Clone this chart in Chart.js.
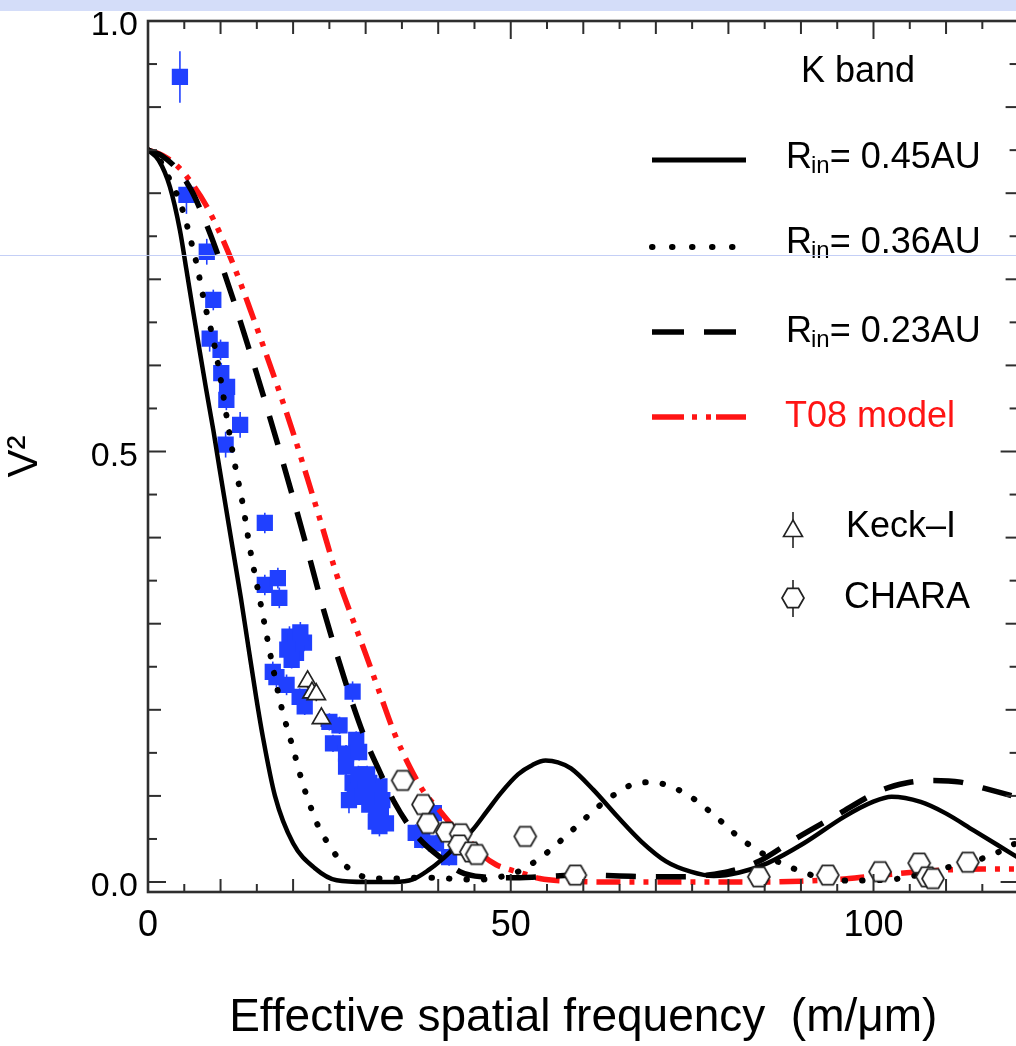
<!DOCTYPE html>
<html><head><meta charset="utf-8">
<script src="https://cdn.jsdelivr.net/npm/chart.js@4.4.1/dist/chart.umd.min.js"></script>
<style>
html,body{margin:0;padding:0;background:#fff;overflow:hidden;width:1016px;height:1046px;}
#wrap{position:absolute;left:0;top:0;width:1040px;height:1046px;}
#band{position:absolute;left:0;top:0;width:1016px;height:11px;background:#d4ddf9;z-index:2;}
#hl{position:absolute;left:0;top:255px;width:1016px;height:1px;background:rgba(190,202,245,0.9);z-index:2;}
</style></head><body>
<div id="wrap"><canvas id="c" width="1040" height="1046"></canvas></div>
<div id="band"></div><div id="hl"></div>
<script>
const FONT = '"Liberation Sans", Helvetica, Arial, sans-serif';

// ---- tick labels ----
const xTickValues = [0, 50, 100];
const yTickValues = [0.0, 0.5, 1.0];

// ---- model curves ----
const freqRin045 = [0, 1.5, 3.0, 4.4, 5.3, 6.2, 7.1, 8.0, 9.0, 9.9, 10.8, 11.7, 12.8, 13.8, 14.9, 15.8, 17.5, 20.0, 23.0, 26.0, 30.0, 34.0, 36.5, 38.7, 40.5, 42.5, 44.7, 46.7, 48.6, 51.0, 53.0, 54.8, 56.5, 58.3, 61.4, 64.7, 68.0, 71.4, 74.8, 78.0, 81.5, 85.4, 90.4, 96.0, 99.9, 102.5, 106.5, 109.9, 113.8, 117.1, 120];
const v2Rin045   = [0.85, 0.838, 0.808, 0.757, 0.711, 0.664, 0.618, 0.573, 0.525, 0.478, 0.432, 0.386, 0.33, 0.275, 0.215, 0.17, 0.1, 0.045, 0.016, 0.002, 0.0, 0.0, 0.003, 0.014, 0.026, 0.042, 0.06, 0.082, 0.103, 0.125, 0.136, 0.141, 0.139, 0.132, 0.107, 0.076, 0.047, 0.024, 0.012, 0.007, 0.011, 0.022, 0.045, 0.076, 0.093, 0.099, 0.093, 0.08, 0.06, 0.043, 0.028];

const freqRin036 = [0, 1.5, 3.25, 4.4, 5.3, 6.0, 6.7, 7.8, 9.1, 10.1, 11.0, 12.0, 13.1, 14.0, 15.6, 17.2, 18.4, 20.0, 21.3, 22.3, 23.4, 24.8, 26.4, 28.7, 31, 34, 37, 40, 43, 46, 48.6, 51, 53.4, 55.7, 57.8, 59.9, 62, 64.2, 66.7, 69.5, 72.3, 74.8, 77, 79.2, 81.3, 83.6, 86, 88.6, 91.1, 93.5, 96.8, 99.5, 102.6, 105.5, 108.8, 112.5, 116.3, 118.8, 120];
const v2Rin036   = [0.85, 0.84, 0.811, 0.79, 0.765, 0.742, 0.718, 0.672, 0.626, 0.58, 0.532, 0.484, 0.437, 0.39, 0.32, 0.25, 0.203, 0.155, 0.115, 0.09, 0.066, 0.045, 0.026, 0.01, 0.004, 0.004, 0.005, 0.005, 0.003, 0.003, 0.006, 0.012, 0.024, 0.039, 0.055, 0.071, 0.087, 0.101, 0.113, 0.116, 0.110, 0.099, 0.085, 0.069, 0.053, 0.039, 0.027, 0.017, 0.009, 0.004, 0.0015, 0.002, 0.003, 0.007, 0.014, 0.022, 0.031, 0.042, 0.046];

const freqRin023 = [0, 2, 4, 6, 8, 10, 12, 14, 16, 18, 20, 22, 24, 26, 28, 30, 32, 34, 36, 38, 40.7, 43, 46, 50, 54, 60, 65, 70, 74, 77, 80, 84.2, 89, 94.8, 101.2, 104.5, 108.2, 112, 115.2, 120];
const v2Rin023   = [0.85, 0.843, 0.828, 0.803, 0.765, 0.72, 0.67, 0.617, 0.562, 0.505, 0.446, 0.385, 0.322, 0.265, 0.212, 0.165, 0.127, 0.092, 0.065, 0.045, 0.026, 0.012, 0.006, 0.005, 0.006, 0.008, 0.007, 0.006, 0.006, 0.008, 0.012, 0.024, 0.049, 0.077, 0.107, 0.115, 0.118, 0.116, 0.109, 0.098];

const freqT08 = [0, 2, 4, 6, 8, 10, 12, 14, 16, 18, 20, 22, 24, 26, 28, 30, 32, 34, 36, 38, 40, 42, 44, 46, 48, 50, 52, 54, 58, 65, 75, 85, 90, 95, 100, 105, 110, 115, 120];
const v2T08   = [0.85, 0.844, 0.832, 0.812, 0.786, 0.752, 0.712, 0.667, 0.62, 0.572, 0.522, 0.468, 0.413, 0.357, 0.31, 0.265, 0.218, 0.172, 0.135, 0.105, 0.085, 0.065, 0.05, 0.032, 0.02, 0.014, 0.009, 0.004, 0.001, 0.0, 0.0, 0.0, 0.001, 0.003, 0.007, 0.011, 0.014, 0.015, 0.015];

// ---- observations ----
const blueFreq = [4.4, 5.3, 8.1, 9.0, 8.5, 10.0, 10.1, 10.9, 10.8, 12.7, 10.7, 16.1, 16.1, 17.9, 18.1, 19.5, 20.4, 21.5, 20.4, 19.2, 19.8, 21.0, 17.2, 17.7, 19.1, 20.9, 21.6, 28.2, 25.0, 26.4, 25.5, 28.7, 27.3, 29.1, 27.3, 28.2, 29.1, 30.5, 31.9, 29.0, 30.2, 28.5, 30.0, 31.0, 30.5, 32.0, 31.5, 32.8, 27.7, 29.6, 32.3, 32.1, 31.9, 31.4, 36.9, 37.8, 39.7, 39.4, 41.5];
const blueV2   = [0.935, 0.798, 0.732, 0.676, 0.631, 0.618, 0.591, 0.575, 0.56, 0.531, 0.508, 0.417, 0.345, 0.353, 0.33, 0.285, 0.28, 0.278, 0.266, 0.27, 0.258, 0.29, 0.244, 0.238, 0.229, 0.215, 0.204, 0.221, 0.186, 0.182, 0.161, 0.165, 0.149, 0.151, 0.134, 0.115, 0.116, 0.115, 0.111, 0.125, 0.125, 0.105, 0.108, 0.1, 0.09, 0.088, 0.075, 0.068, 0.095, 0.099, 0.095, 0.08, 0.065, 0.07, 0.057, 0.049, 0.045, 0.08, 0.029];
const blueErr  = [0.03, 0.022, 0.015, 0.012, 0.015, 0.012, 0.012, 0.012, 0.012, 0.015, 0.015, 0.012, 0.012, 0.012, 0.012, 0.012, 0.012, 0.01, 0.012, 0.012, 0.01, 0.012, 0.012, 0.012, 0.012, 0.01, 0.01, 0.012, 0.01, 0.01, 0.01, 0.01, 0.01, 0.01, 0.01, 0.012, 0.01, 0.01, 0.012, 0.01, 0.01, 0.012, 0.01, 0.01, 0.012, 0.01, 0.012, 0.01, 0.015, 0.01, 0.01, 0.01, 0.012, 0.01, 0.01, 0.01, 0.01, 0.01, 0.01];

const keckFreq = [22.0, 22.6, 23.2, 23.9];
const keckV2   = [0.233, 0.22, 0.218, 0.19];
const keckErr  = [0.008, 0.008, 0.008, 0.01];

const charaFreq = [35.1, 37.9, 38.6, 41.2, 43.1, 42.9, 44.5, 45.3, 52.0, 58.9, 84.2, 93.7, 100.9, 106.3, 107.4, 108.2, 113.0];
const charaV2   = [0.118, 0.09, 0.068, 0.058, 0.056, 0.043, 0.035, 0.032, 0.053, 0.008, 0.006, 0.008, 0.012, 0.022, 0.006, 0.004, 0.023];
const charaErr  = [0.006, 0.006, 0.006, 0.006, 0.006, 0.006, 0.006, 0.006, 0.006, 0.006, 0.006, 0.006, 0.006, 0.006, 0.006, 0.006, 0.006];

const pairs = (xs, ys) => xs.map((v, i) => ({x: v, y: ys[i]}));

const BLUE = 'rgb(32,64,255)';
const RED = 'rgb(255,20,20)';

function makeHex(r) {
  const s = Math.ceil(2 * r + 4);
  const cv = document.createElement('canvas');
  cv.width = s; cv.height = s;
  const g = cv.getContext('2d');
  g.beginPath();
  for (let k = 0; k < 6; k++) {
    const a = k * Math.PI / 3;
    const px = s / 2 + r * Math.cos(a), py = s / 2 + r * Math.sin(a);
    k ? g.lineTo(px, py) : g.moveTo(px, py);
  }
  g.closePath();
  g.fillStyle = '#fff'; g.fill();
  g.strokeStyle = '#222'; g.lineWidth = 1.7; g.stroke();
  return cv;
}
const hexImg = makeHex(11);

const errorBars = {
  id: 'errorBars',
  beforeDatasetsDraw(chart) {
    const {ctx, scales: {x, y}} = chart;
    ctx.save();
    chart.data.datasets.forEach(ds => {
      if (!ds.errs) return;
      ctx.strokeStyle = ds.errColor; ctx.lineWidth = 1.6;
      ds.data.forEach((p, i) => {
        const px = x.getPixelForValue(p.x);
        ctx.beginPath();
        ctx.moveTo(px, y.getPixelForValue(p.y - ds.errs[i]));
        ctx.lineTo(px, y.getPixelForValue(p.y + ds.errs[i]));
        ctx.stroke();
      });
    });
    ctx.restore();
  }
};

const frame = {
  id: 'frame',
  afterDatasetsDraw(chart) {
    const {ctx, chartArea: a, scales: {x, y}} = chart;
    ctx.save();
    ctx.strokeStyle = '#2e2e2e';
    ctx.lineWidth = 2.6;
    ctx.strokeRect(a.left, a.top, a.right - a.left, a.bottom - a.top);
    ctx.lineWidth = 2;
    const seg = (x1, y1, x2, y2) => { ctx.beginPath(); ctx.moveTo(x1, y1); ctx.lineTo(x2, y2); ctx.stroke(); };
    for (let i = 0; i <= 24; i++) {
      const v = i * 5, px = x.getPixelForValue(v);
      const len = v % 50 === 0 ? 18 : (v % 10 === 0 ? 13 : 8);
      seg(px, a.bottom, px, a.bottom - len);
      seg(px, a.top, px, a.top + len);
    }
    for (let i = 0; i <= 20; i++) {
      const py = y.getPixelForValue(i * 0.05);
      const len = i % 10 === 0 ? 18 : (i % 2 === 0 ? 13 : 9);
      seg(a.left, py, a.left + len, py);
      seg(a.right, py, a.right - len, py);
    }
    ctx.restore();
  }
};

const legend = {
  id: 'customLegend',
  afterDraw(chart) {
    const ctx = chart.ctx;
    ctx.save();
    ctx.textBaseline = 'alphabetic';
    ctx.textAlign = 'left';
    ctx.fillStyle = '#000';
    ctx.font = '36px ' + FONT;
    ctx.fillText('K band', 801, 82);

    const rin = (x0, base, val) => {
      ctx.fillStyle = '#000';
      ctx.font = '36px ' + FONT;
      ctx.fillText('R', x0, base);
      let w = ctx.measureText('R').width - 1;
      ctx.font = '24px ' + FONT;
      ctx.fillText('in', x0 + w, base + 5);
      w += ctx.measureText('in').width;
      ctx.font = '36px ' + FONT;
      ctx.fillText('= ' + val, x0 + w, base);
    };
    const sample = (yy, color, width, dash, cap) => {
      ctx.beginPath();
      ctx.strokeStyle = color; ctx.lineWidth = width;
      ctx.setLineDash(dash); ctx.lineCap = cap;
      ctx.moveTo(652, yy); ctx.lineTo(746, yy); ctx.stroke();
      ctx.setLineDash([]); ctx.lineCap = 'butt';
    };
    sample(160, '#000', 5, [], 'butt');
    rin(786, 168, '0.45AU');
    sample(247, '#000', 6, [0.5, 19.5], 'round');
    rin(786, 253, '0.36AU');
    sample(332, '#000', 5.5, [32, 20], 'butt');
    rin(786, 342, '0.23AU');
    sample(417, RED, 5.5, [32, 8, 5, 9, 5, 5], 'butt');
    ctx.fillStyle = RED;
    ctx.font = '36px ' + FONT;
    ctx.fillText('T08 model', 785, 427);

    // Keck-I
    ctx.strokeStyle = '#222'; ctx.lineWidth = 1.6;
    ctx.beginPath(); ctx.moveTo(793, 512); ctx.lineTo(793, 548); ctx.stroke();
    ctx.beginPath();
    ctx.moveTo(793, 520); ctx.lineTo(802.5, 536.5); ctx.lineTo(783.5, 536.5); ctx.closePath();
    ctx.fillStyle = '#fff'; ctx.fill(); ctx.stroke();
    ctx.fillStyle = '#000';
    ctx.fillText('Keck\u2013I', 846, 537);
    // CHARA
    ctx.beginPath(); ctx.moveTo(793, 580); ctx.lineTo(793, 617); ctx.stroke();
    ctx.drawImage(hexImg, 793 - hexImg.width / 2, 598 - hexImg.height / 2);
    ctx.fillText('CHARA', 844, 608);
    ctx.restore();
  }
};

const lineDs = (label, xs, ys, color, width, dash, cap, order) => ({
  type: 'line', label, data: pairs(xs, ys), borderColor: color, borderWidth: width,
  borderDash: dash, borderCapStyle: cap, pointRadius: 0, fill: false, showLine: true,
  cubicInterpolationMode: 'monotone', order
});

Chart.defaults.font.family = FONT;
Chart.defaults.color = '#000';

new Chart(document.getElementById('c'), {
  type: 'scatter',
  data: {
    datasets: [
      { label: 'CHARA', data: pairs(charaFreq, charaV2), errs: charaErr, errColor: '#333',
        pointStyle: hexImg, pointRadius: 11, order: 0 },
      { label: 'Keck-I', data: pairs(keckFreq, keckV2), errs: keckErr, errColor: '#222',
        pointStyle: 'triangle', pointRadius: 10.5, backgroundColor: '#fff', borderColor: '#222', borderWidth: 1.7, order: 1 },
      lineDs('Rin= 0.45AU', freqRin045, v2Rin045, '#000', 4.5, [], 'butt', 2),
      lineDs('Rin= 0.36AU', freqRin036, v2Rin036, '#000', 6, [0.5, 17], 'round', 3),
      lineDs('Rin= 0.23AU', freqRin023, v2Rin023, '#000', 5.5, [30, 20], 'butt', 4),
      lineDs('T08 model', freqT08, v2T08, RED, 5.5, [24, 9, 5, 9, 5, 9], 'butt', 5),
      { label: 'K band data', data: pairs(blueFreq, blueV2), errs: blueErr, errColor: BLUE,
        pointStyle: 'rect', pointRadius: 11.5, backgroundColor: BLUE, borderColor: BLUE, borderWidth: 0, order: 6 }
    ]
  },
  options: {
    responsive: false,
    animation: false,
    events: [],
    layout: { padding: { left: 0, right: 21.4, top: 21, bottom: 0 } },
    plugins: { legend: { display: false }, tooltip: { enabled: false } },
    scales: {
      x: {
        type: 'linear', min: 0, max: 120,
        grid: { display: false, drawTicks: false }, border: { display: false },
        afterBuildTicks: s => { s.ticks = xTickValues.map(v => ({ value: v })); },
        afterFit: s => { s.height = 154; },
        ticks: { font: { size: 36 }, color: '#000', padding: 12, maxRotation: 0, autoSkip: false,
                 callback: v => String(v) },
        title: { display: true, text: 'Effective spatial frequency  (m/\u03bcm)', font: { size: 46 }, color: '#000', padding: 0 }
      },
      y: {
        type: 'linear', min: -0.0116, max: 1.0,
        grid: { display: false, drawTicks: false }, border: { display: false },
        afterBuildTicks: s => { s.ticks = yTickValues.map(v => ({ value: v })); },
        afterFit: s => { s.width = 148; },
        ticks: { font: { size: 34, lineHeight: 0.5 }, color: '#000', padding: 10, labelOffset: 5, autoSkip: false,
                 callback: v => Number(v).toFixed(1) },
        title: { display: true, text: 'V\u00b2', font: { size: 42 }, color: '#000', padding: 0 }
      }
    }
  },
  plugins: [errorBars, frame, legend]
});
</script>
</body></html>
